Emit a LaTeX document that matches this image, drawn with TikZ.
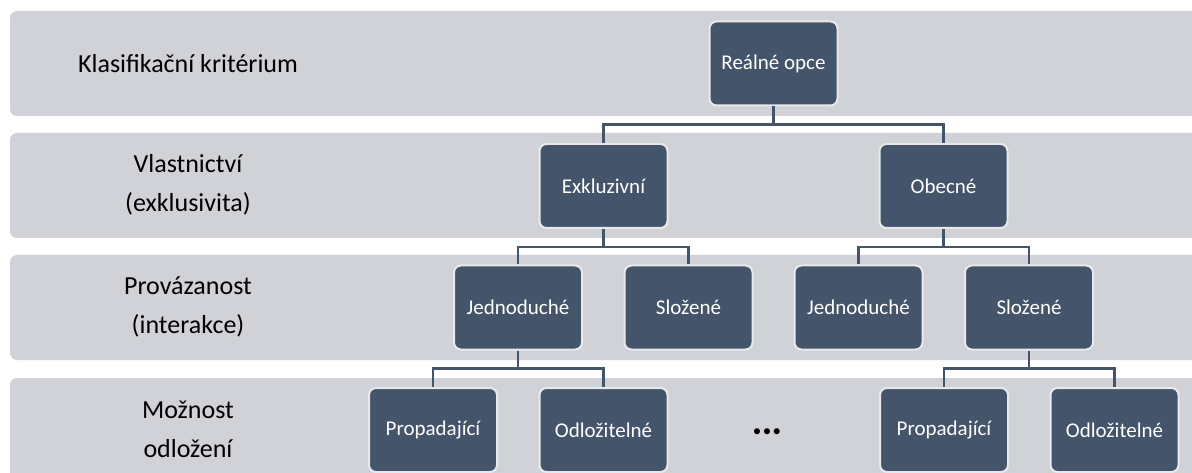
\documentclass[tikz,border=0pt]{standalone}
\usepackage{fontspec}
\setmainfont{Carlito}
\definecolor{bandgray}{HTML}{D0D2D7}
\definecolor{slate}{HTML}{44546A}
\definecolor{rim}{HTML}{E8E9EB}
\tikzset{
  band/.style={fill=bandgray, rounded corners=7pt},
  box/.style={fill=slate, draw=rim, line width=2pt, rounded corners=7pt,
    minimum width=128pt, minimum height=84pt, inner sep=0pt, text=white,
    font=\fontsize{21}{25}\selectfont},
  rowlabel/.style={align=center, inner sep=0pt, text=black,
    font=\fontsize{26}{39}\selectfont},
  link/.style={draw=slate, line width=2.5pt}
}
\begin{document}
\begin{tikzpicture}[x=1pt, y=-1pt]
  \clip (0,0) rectangle (1192,473);

  % background rows
  \fill[band] (10,11)  rectangle (1230,116);
  \fill[band] (10,133) rectangle (1230,238);
  \fill[band] (10,255) rectangle (1230,360);
  \fill[band] (10,378) rectangle (1230,490);

  % row captions
  \node[rowlabel] (c1) at (188,63.5)  {Klasifikační kritérium};
  \node[rowlabel] (c2) at (188,185)   {Vlastnictví\\(exklusivita)};
  \node[rowlabel] (c3) at (188,307)   {Provázanost\\(interakce)};
  \node[rowlabel] (c4) at (188,429.5) {Možnost\\odložení};

  % tree
  \node[box] (ro) at (773.5,63.5) {Reálné opce};
  \node[box] (ex) at (603.5,186)  {Exkluzivní};
  \node[box] (ob) at (943.5,186)  {Obecné};
  \node[box] (j1) at (518,307.5)  {Jednoduché};
  \node[box] (s1) at (688.5,307.5){Složené};
  \node[box] (j2) at (858.5,307.5){Jednoduché};
  \node[box] (s2) at (1029,307.5) {Složené};
  \node[box] (p1) at (433,430)    {Propadající};
  \node[box] (o1) at (603.5,430)  {Odložitelné};
  \node[box] (p2) at (944,430)    {Propadající};
  \node[box] (o2) at (1114.5,430) {Odložitelné};
  \node[text=black, inner sep=0pt, font=\fontsize{17}{17}\selectfont] (dots) at (767,433) {•\kern1.5pt•\kern1.5pt•};

  % connectors
  \draw[link] (ro.south) -- ++(0,18) -| (ex.north);
  \draw[link] (ro.south) -- ++(0,18) -| (ob.north);
  \draw[link] (ex.south) -- ++(0,18) -| (j1.north);
  \draw[link] (ex.south) -- ++(0,18) -| (s1.north);
  \draw[link] (ob.south) -- ++(0,18) -| (j2.north);
  \draw[link] (ob.south) -- ++(0,18) -| (s2.north);
  \draw[link] (j1.south) -- ++(0,18) -| (p1.north);
  \draw[link] (j1.south) -- ++(0,18) -| (o1.north);
  \draw[link] (s2.south) -- ++(0,18) -| (p2.north);
  \draw[link] (s2.south) -- ++(0,18) -| (o2.north);
\end{tikzpicture}
\end{document}
